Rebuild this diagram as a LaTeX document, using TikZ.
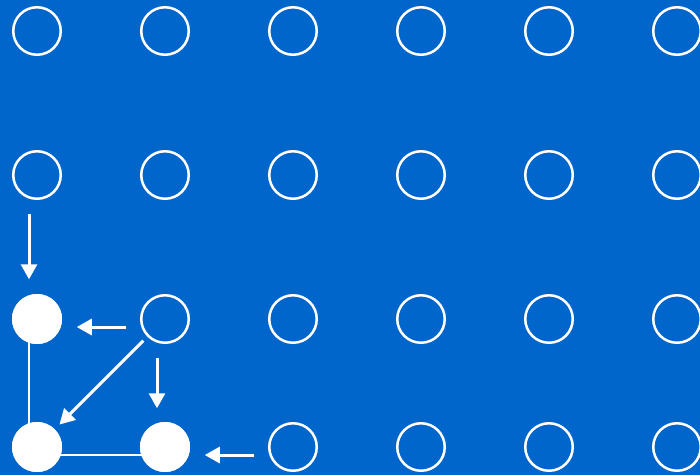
\documentclass[tikz,border=0pt]{standalone}
\usetikzlibrary{arrows.meta}
\definecolor{bg}{RGB}{0,102,204}
\begin{document}
\begin{tikzpicture}[x=1pt,y=-1pt,
  dot/.style={circle,draw=white,line width=2.5pt,minimum size=47.5pt,inner sep=0pt,outer sep=0pt},
  full/.style={dot,fill=white},
  arr/.style={draw=white,line width=3pt,-{Triangle[length=15pt,width=16pt]}},
  lnk/.style={draw=white,line width=2.5pt}]
\fill[bg] (0,0) rectangle (700,475);
\useasboundingbox (0,0) rectangle (700,475);
% links under nodes
\coordinate (l1) at (29,319);
\coordinate (l2) at (29,447);
\coordinate (h1) at (37,455);
\coordinate (h2) at (165,455);
\draw[lnk] (l1) -- (l2);
\draw[lnk] (h1) -- (h2);
% grid
\foreach \r/\y in {0/31,1/175,2/319,3/447}{
  \foreach \c/\x in {0/37,1/165,2/293,3/421,4/549,5/677}{
    \node[dot] (n\r\c) at (\x,\y) {};
  }
}
\node[full] (f20) at (n20) {};
\node[full] (f30) at (n30) {};
\node[full] (f31) at (n31) {};
% arrows
\draw[arr,shorten <=15pt,shorten >=16pt] ([xshift=-8pt]n10.south) -- ([xshift=-8pt]f20.north);
\draw[arr,shorten <=15pt,shorten >=16pt] ([yshift=-8pt]n21.west) -- ([yshift=-8pt]f20.east);
\draw[arr,shorten <=7pt,shorten >=8pt] (n21.south west) -- (f30.north east);
\draw[arr,shorten <=15pt,shorten >=15pt] ([xshift=-8pt]n21.south) -- ([xshift=-8pt]f31.north);
\draw[arr,shorten <=15pt,shorten >=16pt] ([yshift=-8pt]n32.west) -- ([yshift=-8pt]f31.east);
\end{tikzpicture}
\end{document}
